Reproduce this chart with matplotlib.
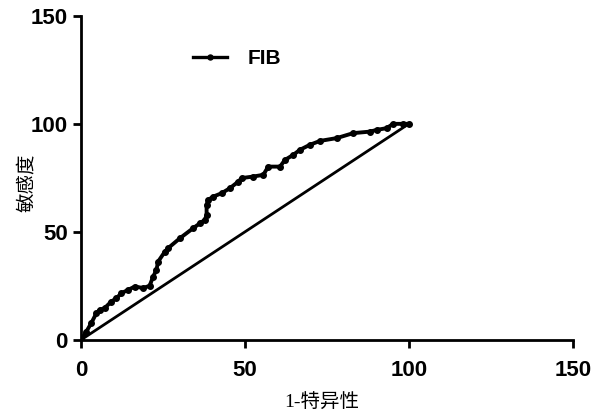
import matplotlib
matplotlib.use("Agg")
import matplotlib.pyplot as plt

# ROC curve for FIB (1-specificity %, sensitivity %)
fpr = [0, 1.6, 3.1, 4.7, 5.7, 7.2, 9.2, 10.8, 12.3, 14.3, 16.4, 18.9, 20.9, 22.0,
       23.0, 23.5, 25.6, 26.6, 30.2, 34.2, 36.3, 37.8, 38.3, 38.3, 38.8, 40.3,
       42.9, 45.4, 48.0, 49.0, 52.5, 55.6, 57.1, 60.7, 62.2, 64.7, 66.8, 69.8,
       72.9, 78.0, 83.0, 88.1, 90.2, 93.2, 95.2, 98.3, 100]
tpr = [0, 3.8, 7.7, 12.4, 13.9, 14.7, 17.7, 19.3, 21.6, 23.1, 24.7, 24.0, 25.0, 29.3,
       32.4, 36.2, 40.9, 42.5, 47.1, 51.7, 54.0, 55.6, 57.9, 62.5, 64.8, 66.3,
       67.9, 70.2, 73.3, 74.9, 75.6, 76.4, 80.2, 80.2, 83.3, 85.6, 88.0, 90.3,
       92.1, 93.4, 95.7, 96.4, 97.2, 98.0, 100, 100, 100]
ref_x = [0, 100]
ref_y = [0, 100]
ticks = [0, 50, 100, 150]

fig = plt.figure(figsize=(5.96, 4.17), dpi=100)
ax = fig.add_axes([0.136, 0.185, 0.825, 0.777])

ax.plot(fpr, tpr, color="black", lw=2.8, marker="o", ms=4, label="FIB")
ax.plot(ref_x, ref_y, color="black", lw=2)

ax.set_xlim(0, 150)
ax.set_ylim(0, 150)
ax.set_xticks(ticks)
ax.set_yticks(ticks)
for s in ["top", "right"]:
    ax.spines[s].set_visible(False)
for s in ["left", "bottom"]:
    ax.spines[s].set_linewidth(2)
ax.tick_params(direction="out", length=5.5, width=2)
ax.tick_params(axis="x", pad=9)
ax.tick_params(axis="y", pad=4)
for lab in ax.get_xticklabels() + ax.get_yticklabels():
    lab.set_fontfamily("Liberation Sans")
    lab.set_fontweight("bold")
    lab.set_fontsize(16)

ax.set_xlabel("1-特异性", family=["Liberation Serif", "Noto Sans CJK SC"], fontsize=14)
ax.set_ylabel("敏感度", family=["Noto Sans CJK SC"], fontsize=14)
ax.xaxis.set_label_coords(0.49, -0.168)
ax.yaxis.set_label_coords(-0.09, 0.485)

leg = ax.legend(loc="upper left", bbox_to_anchor=(0.19, 0.955), frameon=False,
                prop={"family": "Liberation Sans", "weight": "bold", "size": 15},
                handlelength=1.6, handletextpad=1.0,
                markerscale=0.9)
for h in leg.get_lines():
    h.set_linewidth(2.4)

fig.savefig("out.png", dpi=100)
